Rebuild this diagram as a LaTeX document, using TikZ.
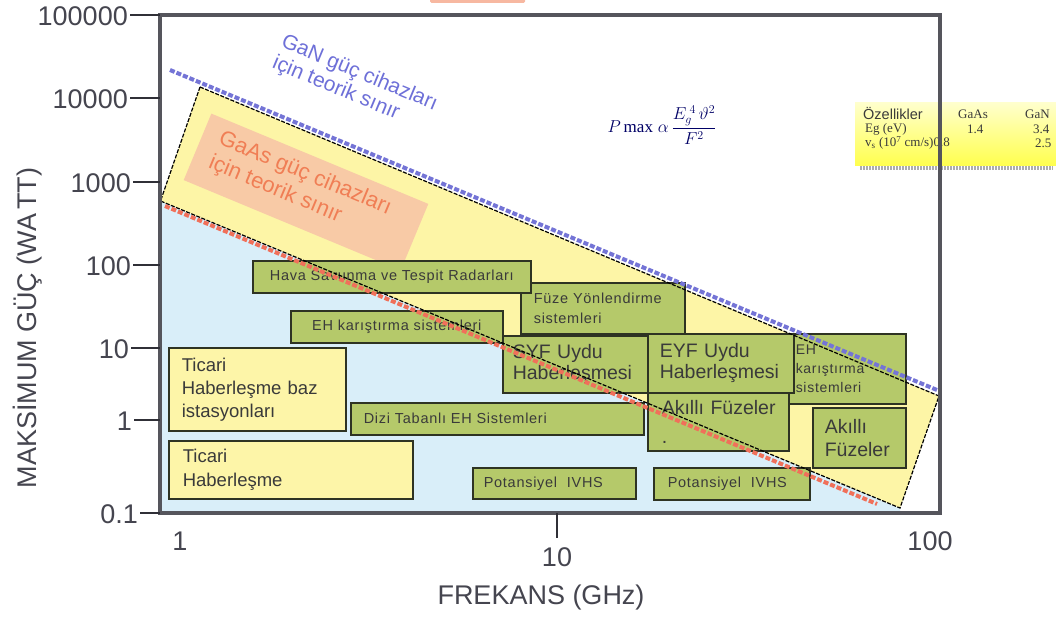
\documentclass[tikz,border=0pt]{standalone}
\usepackage{amsmath}
\usepackage{fontspec}
\setmainfont{Liberation Sans}
\newfontfamily\serifft{Liberation Serif}
\newfontfamily\spsans[LetterSpace=5]{Liberation Sans}
\definecolor{gfill}{HTML}{B5C96A}
\definecolor{yfill}{HTML}{FDF5A8}
\definecolor{band}{HTML}{FDF5A6}
\definecolor{bluereg}{HTML}{D9EEF9}
\definecolor{pinkr}{HTML}{F8CAA6}
\definecolor{orangel}{HTML}{F0705A}
\definecolor{bluel}{HTML}{7474D6}
\definecolor{bluet}{HTML}{6E70D8}
\definecolor{oranget}{HTML}{F07E55}
\definecolor{txt}{HTML}{3A3A3A}
\definecolor{axtxt}{HTML}{45454F}
\definecolor{framec}{HTML}{55555C}
\definecolor{boxline}{HTML}{2E3323}
\newcommand\fsm{\spsans\fontsize{14.5}{20}\selectfont}
\newcommand\fehs{\spsans\fontsize{14}{19}\selectfont}
\newcommand\fbig{\fontsize{19.5}{21}\selectfont}
\newcommand\fmed{\fontsize{18.5}{23}\selectfont}
\newcommand\fax{\fontsize{27}{30}\selectfont}
\newcommand\ftab{\fontsize{13}{14}\selectfont}
\begin{document}
\begin{tikzpicture}[x=1pt,y=-1pt,
  gbox/.style={draw=boxline, line width=1.6pt, fill=gfill, inner ysep=0pt, anchor=north west, text=txt},
  ybox/.style={gbox, fill=yfill},
  ticklab/.style={text=axtxt, font=\fax, inner sep=0pt},
  tickline/.style={draw=axtxt!70!black, line width=1.6pt},
  edgeline/.style={draw=black, line width=1.2pt, dash pattern=on 4pt off 1.5pt},
  gandash/.style={draw=bluel, line width=4pt, dash pattern=on 5pt off 2pt},
  gaasdash/.style={draw=orangel, line width=4pt, dash pattern=on 5pt off 2pt},
  tabtxt/.style={anchor=west, inner sep=0pt, text=txt, font=\serifft\ftab}]
\useasboundingbox (0,0) rectangle (1056,617);
\fill[white] (0,0) rectangle (1056,617);
% cut-off orange fragment at the top
\fill[oranget!55, rounded corners=1.5pt] (430,-3) rectangle (525,3);

% regions
\coordinate (A) at (200,87);
\coordinate (B) at (939,396);
\coordinate (C) at (900,508);
\coordinate (D) at (160.5,201);
\begin{scope}
  \clip (160,15) rectangle (940,513);
  \fill[bluereg] (150,197) -- (C) -- (900,520) -- (150,520) -- cycle;
  \fill[band] (A) -- (B) -- (C) -- (D) -- cycle;
  \node[rotate=-22.6, fill=pinkr, minimum width=235pt, minimum height=72pt, inner sep=0pt] (gaasbg) at (306,192) {};
\end{scope}

% table
\shade[top color=yellow!20!white, bottom color=yellow!70!white] (855,103) rectangle (1056,166);
\draw[gray!65, line width=4pt, dash pattern=on 2pt off 1pt] (860,168) -- (1053,168);
\node[tabtxt, font=\fontsize{14.5}{15}\selectfont] (t11) at (863,114) {Özellikler};
\node[tabtxt] (t12) at (958,114) {GaAs};
\node[tabtxt] (t13) at (1025,114) {GaN};
\node[tabtxt] (t21) at (865,129) {Eg (eV)};
\node[tabtxt] (t22) at (967,129) {1.4};
\node[tabtxt] (t23) at (1033,129) {3.4};
\node[tabtxt] (t31) at (865,143) {v\textsubscript{s} (10\textsuperscript{7} cm/s)0.8};
\node[tabtxt] (t33) at (1035,143) {2.5};

% texts on regions
\node[rotate=-22.6, text=bluet, font=\fontsize{21}{23}\selectfont, align=left, inner sep=0pt] (gantext) at (355,84) {GaN güç cihazları\\için teorik sınır};
\node[rotate=-22.6, text=oranget, font=\fontsize{22}{26}\selectfont, align=left, inner sep=0pt] (gaastext) at (300,186) {GaAs güç cihazları\\için teorik sınır};
\node[text=txt, font=\fontsize{17}{17}\selectfont, inner sep=0pt] (formula) at (662,125) {$\color{blue!40!black}P\,\text{\serifft max}\;\alpha\,\displaystyle\frac{E_g^{\;4}\,\vartheta^{2}}{F^{2}}$};

% boxes
\node[gbox, minimum width=164pt, minimum height=51pt, inner xsep=13pt, text width=138pt, align=left, font=\fsm] (fuze) at (520,282) {Füze Yönlendirme\\sistemleri};
\node[gbox, minimum width=278pt, minimum height=32pt, inner xsep=0pt, text width=278pt, align=center, font=\fsm] (hava) at (252,260) {Hava Savunma ve Tespit Radarları};
\node[gbox, minimum width=212pt, minimum height=32pt, inner xsep=0pt, text width=212pt, align=center, font=\fsm] (ehk) at (290,310) {EH karıştırma sistemleri};
\node[gbox, minimum width=145pt, minimum height=57pt, inner xsep=10pt, text width=125pt, align=left, font=\fbig] (syf) at (502,335) {SYF Uydu\\\mbox{Haberleşmesi}};
\node[gbox, minimum width=120pt, minimum height=70pt, inner xsep=10pt, text width=100pt, align=left, font=\fehs] (ehs) at (785,333) {EH\\karıştırma\\sistemleri};
\node[gbox, minimum width=146pt, minimum height=59pt, inner xsep=12pt, text width=122pt, align=left, font=\fbig] (eyf) at (647,333) {EYF Uydu\\\mbox{Haberleşmesi}};
\node[gbox, minimum width=141pt, minimum height=58pt, inner xsep=14pt, text width=113pt, align=left, font=\fbig] (akilli1) at (647,392) {\mbox{Akıllı Füzeler}\\[8pt].};
\node[gbox, minimum width=93pt, minimum height=60pt, inner xsep=12pt, text width=69pt, align=left, font=\fontsize{19.5}{23}\selectfont] (akilli2) at (812,407) {Akıllı\\Füzeler};
\node[gbox, minimum width=293pt, minimum height=32pt, inner xsep=13pt, text width=267pt, align=left, font=\fsm] (dizi) at (350,402) {Dizi Tabanlı EH Sistemleri};
\node[gbox, minimum width=163pt, minimum height=31pt, inner xsep=11pt, text width=141pt, align=left, font=\fsm] (pot1) at (472,467) {Potansiyel\ \ IVHS};
\node[gbox, minimum width=156pt, minimum height=32pt, inner xsep=14pt, text width=128pt, align=left, font=\fsm] (pot2) at (653,467) {Potansiyel\ \ IVHS};
\node[ybox, minimum width=177pt, minimum height=83pt, inner xsep=13pt, text width=151pt, align=left, font=\fmed] (ticari1) at (168,347) {Ticari\\Haberleşme baz\\istasyonları};
\node[ybox, minimum width=244pt, minimum height=58pt, inner xsep=14pt, text width=216pt, align=left, font=\fontsize{18.5}{24}\selectfont] (ticari2) at (168,440) {Ticari\\Haberleşme};

% limit lines
\begin{scope}
  \clip (160,15) rectangle (940,513);
  \draw[edgeline] (A) -- (B) -- (C) -- (D) -- cycle;
\end{scope}
\coordinate (ganS) at (170,70);
\coordinate (ganE) at (937,390);
\coordinate (gaasS) at (165,206);
\coordinate (gaasE) at (877,504);
\draw[gandash] (ganS) -- (ganE);
\draw[gaasdash] (gaasS) -- (gaasE);

% frame
\draw[framec, line width=4pt] (160,15) rectangle (940,513);

% y ticks
\foreach \yy/\lab/\nm/\xs in {15/100000/y5/130, 98/10000/y4/130, 182/1000/y3/133, 265/100/y2/133, 348/10/y1/131, 420/1/y0/134, 513/0.1/ym/140}{
  \draw[tickline] (\xs,\yy) -- (160,\yy);
  \node[ticklab, anchor=east] (\nm) at (\xs-2,\yy+1) {\lab};
}
% x ticks
\draw[tickline] (557,513) -- (557,538);
\node[ticklab] (x1) at (180,541) {1};
\node[ticklab] (x10) at (557,557) {10};
\node[ticklab] (x100) at (930,541) {100};
\node[ticklab] (xlab) at (541,598) {FREKANS (GHz)};
\node[ticklab, rotate=90] (ylab) at (28,328) {MAKSİMUM GÜÇ (WA\kern4pt TT)};
\end{tikzpicture}
\end{document}
